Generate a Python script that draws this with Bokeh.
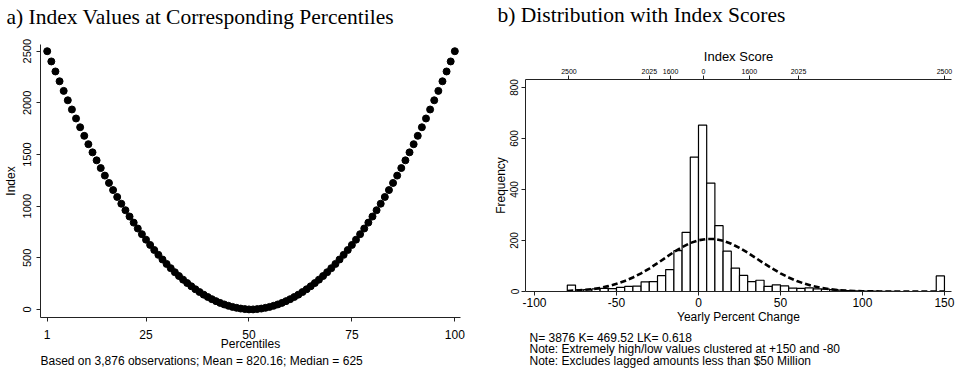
from bokeh.plotting import figure
from bokeh.models import Range1d, FixedTicker, LinearAxis, Title
from bokeh.layouts import row, column
from bokeh.embed import file_html
from bokeh.resources import INLINE

# ---------------- data: panel a ----------------
percentiles = list(range(1, 101))
index_values = [2500, 2401, 2304, 2209, 2116, 2025, 1936, 1849, 1764, 1681,
                1600, 1521, 1444, 1369, 1296, 1225, 1156, 1089, 1024, 961,
                900, 841, 784, 729, 676, 625, 576, 529, 484, 441,
                400, 361, 324, 289, 256, 225, 196, 169, 144, 121,
                100, 81, 64, 49, 36, 25, 16, 9, 4, 1,
                1, 4, 9, 16, 25, 36, 49, 64, 81, 100,
                121, 144, 169, 196, 225, 256, 289, 324, 361, 400,
                441, 484, 529, 576, 625, 676, 729, 784, 841, 900,
                961, 1024, 1089, 1156, 1225, 1296, 1369, 1444, 1521, 1600,
                1681, 1764, 1849, 1936, 2025, 2116, 2209, 2304, 2401, 2500]
pct_ticks = [1, 25, 50, 75, 100]
idx_ticks = [0, 500, 1000, 1500, 2000, 2500]

# ---------------- data: panel b ----------------
bin_left = [-80, -75, -70, -65, -60, -55, -50, -45, -40, -35,
            -30, -25, -20, -15, -10, -5, 0, 5, 10, 15,
            20, 25, 30, 35, 40, 45, 50, 55, 60, 65,
            70, 75, 80, 85, 90, 95, 100, 105, 110, 115,
            120, 125, 130, 135, 140, 145]
bin_counts = [25, 6, 7, 10, 12, 11, 16, 20, 21, 38,
              39, 62, 86, 160, 232, 527, 652, 425, 258, 158,
              92, 63, 39, 44, 20, 26, 22, 13, 12, 14,
              10, 9, 7, 5, 4, 3, 2, 2, 1, 1,
              0, 0, 0, 0, 0, 61]
bin_width = 5
curve_x = [-80, -75, -70, -65, -60, -55, -50, -45, -40, -35,
           -30, -25, -20, -15, -10, -5, 0, 5, 10, 15,
           20, 25, 30, 35, 40, 45, 50, 55, 60, 65,
           70, 75, 80, 85, 90, 95, 100, 105, 110, 115,
           120, 125, 130, 135, 140, 145, 150]
curve_y = [2, 4, 6, 9, 14, 21, 30, 41, 55, 71,
           90, 111, 133, 155, 174, 190, 201, 206, 206, 199,
           187, 171, 152, 131, 110, 90, 71, 55, 41, 30,
           21, 14, 9, 6, 3, 2, 1, 1, 0, 0,
           0, 0, 0, 0, 0, 0, 0]
chg_ticks = [-100, -50, 0, 50, 100, 150]
chg_labels = ["-100", "-50", "0", "50", "100", "150"]
freq_ticks = [0, 200, 400, 600, 800]
score_tick_pos = [-79, -30, -17, 3, 31, 61, 150]
score_tick_labels = ["2500", "2025", "1600", "0", "1600", "2025", "2500"]

SANS = "Liberation Sans"
SERIF = "Liberation Serif"
AX = "#222222"


def style_axis(ax, font_size, standoff, label_standoff):
    ax.axis_line_color = AX
    ax.axis_line_width = 1
    ax.major_tick_line_color = AX
    ax.major_tick_out = 4
    ax.major_tick_in = 0
    ax.minor_tick_out = 0
    ax.minor_tick_in = 0
    ax.major_label_text_font = SANS
    ax.major_label_text_font_size = font_size
    ax.major_label_text_color = "black"
    ax.major_label_standoff = standoff
    ax.axis_label_text_font = SANS
    ax.axis_label_text_font_size = "12px"
    ax.axis_label_text_font_style = "normal"
    ax.axis_label_text_color = "black"
    ax.axis_label_standoff = label_standoff


def make_title(text, font, size, offset, standoff, valign="top", line_height=1.0):
    return Title(text=text, text_font=font, text_font_size=size, text_font_style="normal",
                 text_color="black", align="left", offset=offset, standoff=standoff,
                 vertical_align=valign, text_line_height=line_height)


def spacer_title(gap):
    return Title(text=" ", text_font_size="1px", standoff=gap, text_color="white")


# ---------------- panel a ----------------
pa = figure(width=480, height=373, x_range=Range1d(-0.63, 101.38), y_range=Range1d(-77.4, 2565),
            output_backend="svg", toolbar_location=None,
            min_border_left=40, min_border_right=20, min_border_top=44, min_border_bottom=56)
pa.outline_line_color = None
pa.grid.visible = False

pa.xaxis.ticker = FixedTicker(ticks=pct_ticks)
pa.yaxis.ticker = FixedTicker(ticks=idx_ticks)
pa.xaxis.axis_label = "Percentiles"
pa.yaxis.axis_label = "Index"
for a in pa.xaxis:
    style_axis(a, "12px", 8, -5)
for a in pa.yaxis:
    style_axis(a, "11px", 5, 3)
    a.major_label_orientation = "vertical"

pa.scatter(percentiles, index_values, size=7, color="black")

pa.add_layout(spacer_title(11), "above")
pa.add_layout(make_title("a) Index Values at Corresponding Percentiles", SERIF, "21.5px", -34, 0), "above")
pa.add_layout(make_title("Based on 3,876 observations; Mean = 820.16; Median = 625", SANS, "12px", 0, 0), "below")

# ---------------- panel b ----------------
pb = figure(width=475, height=373, x_range=Range1d(-105.5, 154.3), y_range=Range1d(0, 831),
            output_backend="svg", toolbar_location=None,
            min_border_left=45, min_border_right=4, min_border_top=79, min_border_bottom=80)
pb.outline_line_color = None
pb.grid.visible = False

pb.xaxis.ticker = FixedTicker(ticks=chg_ticks)
pb.xaxis.major_label_overrides = {t: l for t, l in zip(chg_ticks, chg_labels)}
pb.yaxis.ticker = FixedTicker(ticks=freq_ticks)
pb.xaxis.axis_label = "Yearly Percent Change"
pb.yaxis.axis_label = "Frequency"
for a in pb.xaxis:
    style_axis(a, "12px", 2, 0)
for a in pb.yaxis:
    style_axis(a, "10px", 3, 0)
    a.major_label_orientation = "vertical"

top_axis = LinearAxis(ticker=FixedTicker(ticks=score_tick_pos),
                      major_label_overrides={p: l for p, l in zip(score_tick_pos, score_tick_labels)},
                      axis_label="Index Score")
style_axis(top_axis, "7px", 2, 2)
top_axis.axis_label_text_font_size = "13px"
pb.add_layout(top_axis, "above")

bin_right = [l + bin_width for l in bin_left]
pb.quad(left=bin_left, right=bin_right, bottom=0, top=bin_counts,
        fill_color="white", line_color="black", line_width=1.2)
pb.line(curve_x, curve_y, line_color="black", line_width=2.6, line_dash="6 3")

pb.add_layout(spacer_title(14), "above")
pb.add_layout(make_title("b) Distribution with Index Scores", SERIF, "21.5px", -28, 0), "above")
notes = ["N= 3876 K= 469.52 LK= 0.618",
         "Note: Extremely high/low values clustered at +150 and -80",
         "Note: Excludes lagged amounts less than $50 Million"]
pb.add_layout(make_title("\n".join(notes), SANS, "12px", 4, 8, line_height=0.83), "below")

layout = row(column(pa), column(pb), spacing=0)
open("out.html", "w").write(file_html(layout, INLINE))
